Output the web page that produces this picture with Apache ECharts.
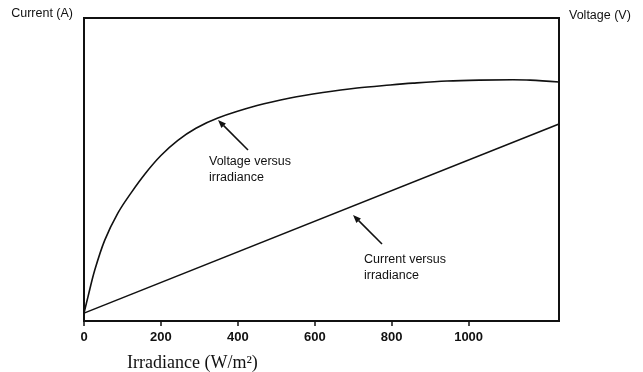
<!DOCTYPE html>
<html>
<head>
<meta charset="utf-8">
<script src="https://cdn.jsdelivr.net/npm/echarts@6/dist/echarts.min.js"></script>
<style>
	html, body { margin: 0; padding: 0; background: #fff; }
	#chart { width: 643px; height: 372px; }
</style>
</head>
<body>
<div id="chart"></div>
<script>
	// irradiance ticks (W/m2)
	var xTicks = [0, 200, 400, 600, 800, 1000];
	// current versus irradiance : straight line
	var currentData = [[0, 2.6], [1235, 65]];
	// voltage versus irradiance
	var voltageData = [
		[0, 2.6], [10, 7.8], [28, 16.8], [54, 26.7], [88, 35.6], [122, 42.2],
		[159, 48.6], [200, 54.6], [244, 59.6], [291, 63.6], [348, 67.0],
		[450, 71.1], [536, 73.6], [621, 75.4], [710, 76.9], [796, 77.9],
		[855, 78.5], [944, 79.2], [1030, 79.5], [1115, 79.6], [1160, 79.5], [1235, 78.9]
	];

	var myChart = echarts.init(document.getElementById('chart'));

	// 箭头: 线 + 三角形
	function arrow(x1, y1, x2, y2) {
		var dx = x2 - x1, dy = y2 - y1;
		var len = Math.sqrt(dx * dx + dy * dy);
		var ux = dx / len, uy = dy / len;
		var bx = x2 - ux * 8, by = y2 - uy * 8;
		var px = -uy * 3.2, py = ux * 3.2;
		return [{
			type: 'line',
			shape: { x1: x1, y1: y1, x2: bx, y2: by },
			style: { stroke: '#111', lineWidth: 1.6 }
		}, {
			type: 'polygon',
			shape: { points: [[x2, y2], [bx + px, by + py], [bx - px, by - py]] },
			style: { fill: '#111' }
		}];
	}

	var labelFont = {
		fontFamily: 'Liberation Sans, Arial, sans-serif',
		fontSize: 12.5,
		fill: '#111'
	};

	var graphics = [].concat(
		arrow(248, 150, 218, 120),
		arrow(382, 244, 353, 215),
		[{
			type: 'text', left: 209, top: 154,
			style: Object.assign({ text: 'Voltage versus\nirradiance', lineHeight: 16 }, labelFont)
		}, {
			type: 'text', left: 364, top: 252,
			style: Object.assign({ text: 'Current versus\nirradiance', lineHeight: 16 }, labelFont)
		}, {
			type: 'text', left: 127, top: 354,
			style: {
				text: 'Irradiance (W/m²)',
				fontFamily: 'Liberation Serif, Times New Roman, serif',
				fontSize: 18,
				fill: '#111'
			}
		}]
	);

	var option = {
		animation: false,
		grid: {
			left: 84, right: 84, top: 18, bottom: 51,
			show: true, borderColor: '#111', borderWidth: 2
		},
		xAxis: {
			type: 'value',
			min: 0,
			max: 1235,
			interval: 200,
			axisLine: { lineStyle: { color: '#111', width: 2 } },
			axisTick: { show: true, length: 5, customValues: xTicks, lineStyle: { color: '#111', width: 1.5 } },
			splitLine: { show: false },
			axisLabel: {
				customValues: xTicks,
				formatter: function(value) {
					return String(value);
				},
				color: '#111',
				fontSize: 13,
				fontWeight: 'bold',
				fontFamily: 'Liberation Sans, Arial, sans-serif',
				margin: 10
			}
		},
		yAxis: [{
			type: 'value',
			min: 0, max: 100,
			name: 'Current (A)',
			nameLocation: 'end',
			nameGap: 4,
			nameTextStyle: {
				align: 'right', verticalAlign: 'middle', padding: [0, 11, 0, 0],
				color: '#111', fontSize: 12.5, fontFamily: 'Liberation Sans, Arial, sans-serif'
			},
			axisLine: { show: true, lineStyle: { color: '#111', width: 2 } },
			axisTick: { show: false },
			axisLabel: { show: false },
			splitLine: { show: false }
		}, {
			type: 'value',
			min: 0, max: 100,
			position: 'right',
			name: 'Voltage (V)',
			nameLocation: 'end',
			nameGap: 2,
			nameTextStyle: {
				align: 'left', verticalAlign: 'middle', padding: [0, 0, 0, 10],
				color: '#111', fontSize: 12.5, fontFamily: 'Liberation Sans, Arial, sans-serif'
			},
			axisLine: { show: true, lineStyle: { color: '#111', width: 2 } },
			axisTick: { show: false },
			axisLabel: { show: false },
			splitLine: { show: false }
		}],
		series: [{
			name: 'Current',
			type: 'line',
			yAxisIndex: 0,
			data: currentData,
			symbol: 'none',
			lineStyle: { color: '#111', width: 1.6 }
		}, {
			name: 'Voltage',
			type: 'line',
			yAxisIndex: 1,
			data: voltageData,
			smooth: 0.35,
			symbol: 'none',
			lineStyle: { color: '#111', width: 1.6 }
		}],
		graphic: graphics
	};
	myChart.setOption(option);
</script>
</body>
</html>
